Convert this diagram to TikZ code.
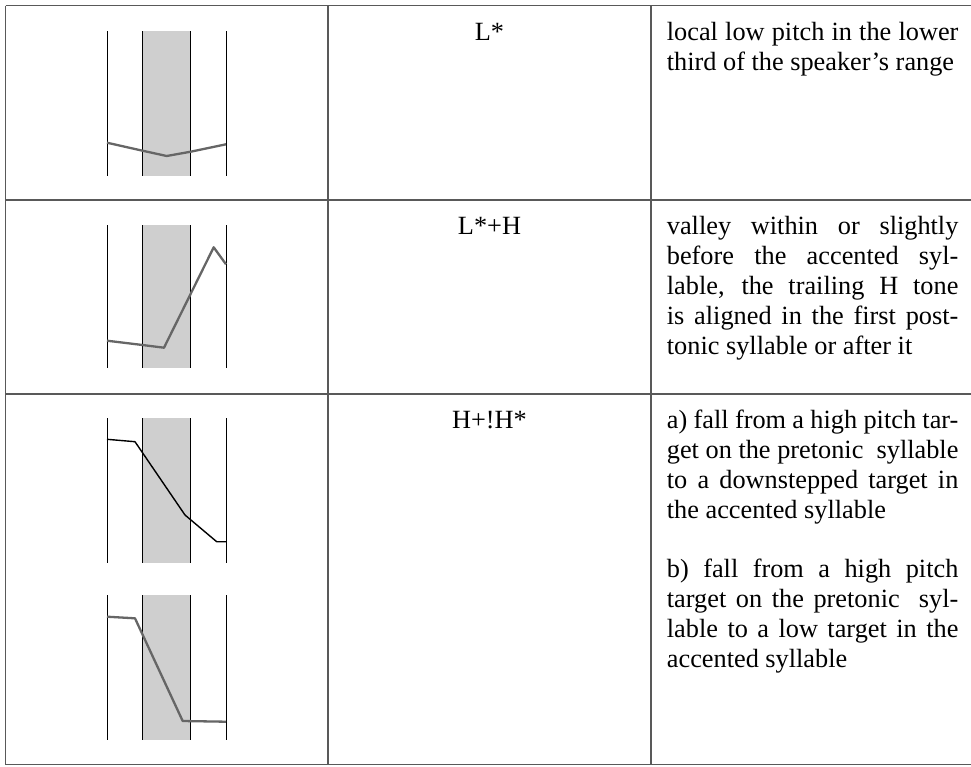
\documentclass[tikz,border=0pt]{standalone}
\usepackage{fontspec}
\setmainfont{Liberation Serif}
\definecolor{sylgray}{HTML}{CFCFCF}
\definecolor{rulegray}{HTML}{595959}
\definecolor{pitchgray}{HTML}{666666}
\newcommand\sylpanel[2]{%
  \fill[sylgray] (142.5,#1) rectangle (190.7,#2);
  \foreach \xx in {107,142.5,190.7,226} \draw[tick] (\xx,#1) -- (\xx,#2);
}
\begin{document}
\begin{tikzpicture}[x=1pt,y=-1pt,
  rule/.style={draw=rulegray, line width=1.2pt},
  tick/.style={draw=black, line width=0.9pt},
  pitch/.style={draw=pitchgray, line width=2.3pt, line join=round},
  pitchdark/.style={draw=black, line width=1.4pt, line join=round},
  toneLabel/.style={font=\fontsize{26.3pt}{30pt}\selectfont, inner sep=0pt, anchor=base},
  desc/.style={font=\fontsize{26.3pt}{30pt}\selectfont, inner sep=0pt, anchor=north west, text width=291.5pt, align=justify}]
\useasboundingbox (0,0) rectangle (971,766);
% table rules
\draw[rule] (5.7,5.7) -- (971,5.7);
\draw[rule] (5.7,200) -- (971,200);
\draw[rule] (5.7,394) -- (971,394);
\draw[rule] (5.7,764.5) -- (971,764.5);
\draw[rule] (5.7,5.7) -- (5.7,764.5);
\draw[rule] (328,5.7) -- (328,764.5);
\draw[rule] (651,5.7) -- (651,764.5);
% panels
\sylpanel{31}{176}
\sylpanel{225}{368}
\sylpanel{418}{563}
\sylpanel{595}{740}
% pitch contours
\draw[pitch] (107,142.7) -- (142.5,150.7) -- (166.7,156) -- (190.7,151.7) -- (226,144.3);
\draw[pitch] (107,340.7) -- (142.5,345) -- (164,347.7) -- (213.7,247.3) -- (226,264.3);
\draw[pitchdark] (107,439.3) -- (135,441.7) -- (185,515) -- (216.7,541.7) -- (226,541.7);
\draw[pitch] (107,616.7) -- (135,618.3) -- (182.7,721) -- (226,721.7);
% labels
\node[toneLabel] (t1) at (489.5,40) {L*};
\node[toneLabel] (t2) at (489.5,234) {L*+H};
\node[toneLabel] (t3) at (489.5,428) {H+!H*};
% descriptions
\node[desc] (d1) at (666.7,20) {\rule{0pt}{20pt}local low pitch in the lower\linebreak third of the speaker’s range};
\node[desc] (d2) at (666.7,214) {\rule{0pt}{20pt}valley within or slightly\linebreak before the accented syl-\linebreak lable, the trailing H tone\linebreak is aligned in the first post-\linebreak tonic syllable or after it};
\node[desc] (d3a) at (666.7,408) {\rule{0pt}{20pt}a) fall from a high pitch tar-\linebreak get on the pretonic~~syllable\linebreak to a downstepped target in\linebreak the accented syllable};
\node[desc] (d3b) at (666.7,557) {\rule{0pt}{20pt}b) fall from a high pitch\linebreak target on the pretonic~~syl-\linebreak lable to a low target in the\linebreak accented syllable};
\end{tikzpicture}
\end{document}
